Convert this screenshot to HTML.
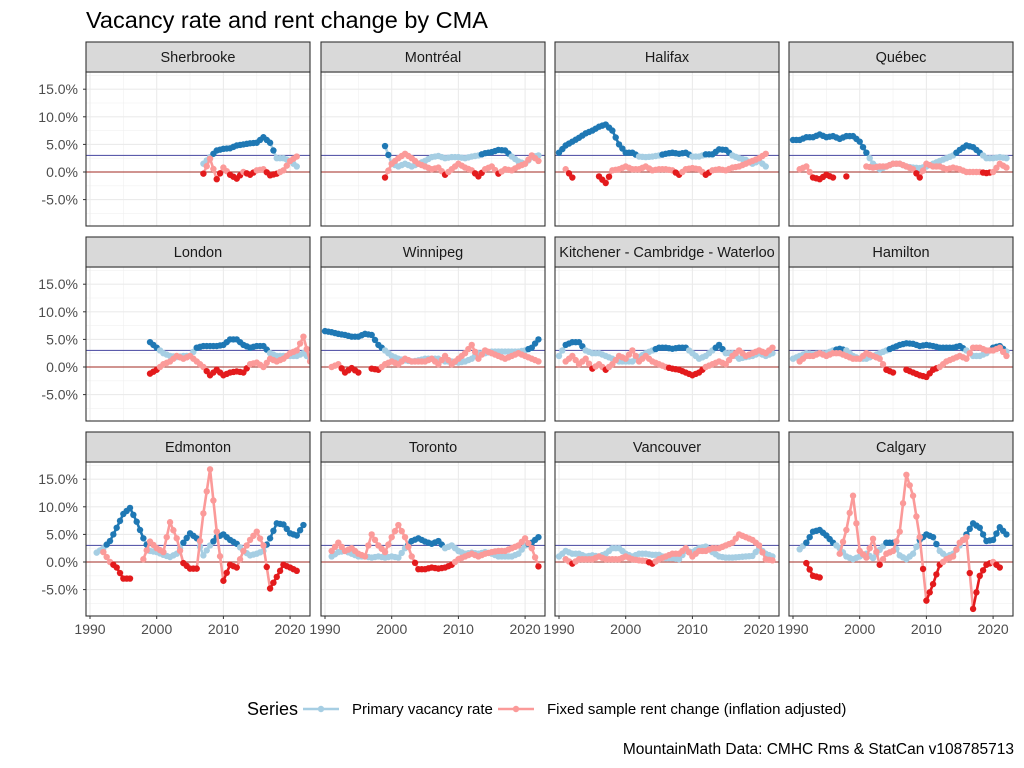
<!DOCTYPE html>
<html><head><meta charset="utf-8"><style>
body{margin:0;background:#fff}
svg{display:block;font-family:"Liberation Sans",sans-serif}
</style></head><body>
<svg id="s" width="1024" height="768" xmlns="http://www.w3.org/2000/svg"></svg>
<script>
const D=[
["Sherbrooke","2007|1.5 2.7 3.9 4.2 4.3 4.8 5.0 5.2 5.3 6.3 5.3 2.5 2.5 2.0 1.0","2007|-0.3 2.4 -1.3 0.8 -0.5 -1.2 0 -0.5 0.3 0.5 -0.6 -0.3 0.3 2.0 2.8"],
["Montréal","1999|4.7 1.5 1.0 1.5 1.0 1.5 2.0 2.7 2.9 2.5 2.7 2.7 2.5 2.8 3.0 3.4 3.6 4.0 3.9 2.8 1.9 1.5 2.7 3.0","1999|-1.0 1.5 2.5 3.3 2.5 1.5 1.0 0.5 0.8 -0.5 0.5 1.5 0.8 0.3 -0.8 0.5 1.0 -0.3 0.5 0.3 1.0 1.5 3.0 2.0"],
["Halifax","1990|3.5 4.8 5.5 6.2 7.0 7.5 8.2 8.6 7.5 5.0 3.5 3.5 2.8 2.7 2.8 3.0 3.3 3.5 3.3 3.5 2.8 2.8 3.2 3.2 4.1 4.0 3.0 2.5 2.2 1.5 2.0 1.0","1991|0.5 -1.0 n n n -0.8 -2.0 0.3 0.5 1.0 0.5 0.5 1.0 0.3 0.5 0.5 0.3 -0.5 0.5 0.7 0.5 -0.5 0.3 0.5 0.3 0.8 1.0 1.5 2.0 2.5 3.3"],
["Québec","1990|5.8 5.8 6.3 6.3 6.8 6.3 6.5 6.0 6.5 6.5 5.5 3.5 1.5 0.5 1.0 1.5 1.5 1.0 0.8 0.7 1.0 1.5 2.0 2.5 3.0 4.0 4.8 4.5 3.5 2.5 2.5 2.7 2.5","1991|0.5 1.0 -1.0 -1.3 -0.5 -1.0 n -0.8 n n 1.0 0.8 1.0 1.0 1.5 1.5 1.0 0.5 -1.0 1.5 1.0 1.0 0.5 0.8 0.5 0 0 0 -0.2 0 1.5 0.8"],
["London","1999|4.5 3.5 2.5 2.0 1.8 2.0 2.0 3.5 3.8 3.8 3.8 4.0 5.0 5.0 4.0 3.5 3.8 3.8 2.5 2.0 2.0 2.0 2.0 2.5 1.5","1999|-1.2 -0.5 0.5 1.0 2.0 1.5 2.0 1.0 0 -1.5 -0.5 -1.5 -1.0 -0.8 -1.0 0.5 0.8 0 1.5 1.0 1.5 2.5 3.0 5.5 1.0"],
["Winnipeg","1990|6.5 6.3 6.0 5.8 5.5 5.5 6.0 5.8 4.0 3.0 2.0 1.5 1.2 1.0 1.2 1.5 1.5 1.5 1.0 1.0 0.8 1.0 1.5 2.5 2.5 2.8 2.8 2.8 2.8 2.8 3.0 3.5 5.0","1991|0 0.5 -1.0 -0.2 -1.0 n -0.3 -0.5 0.5 1.0 0.5 1.5 1.0 1.0 1.0 1.5 0.5 2.0 0.5 1.5 2.5 4.0 1.5 3.0 2.5 2.0 1.5 2.0 2.5 2.0 1.5 1.0"],
["Kitchener - Cambridge - Waterloo","1990|2.0 4.0 4.5 4.5 3.0 2.5 2.5 2.0 1.5 1.0 1.0 1.0 1.8 2.5 3.0 3.5 3.5 3.3 3.5 3.5 2.5 1.5 2.0 3.0 4.0 2.5 2.5 1.5 1.8 2.0 2.5 2.0 2.5","1991|1.0 2.0 0.5 1.5 -0.3 0.5 -0.5 0.5 2.0 1.5 3.0 1.0 2.0 1.0 0.5 0 -0.3 -0.5 -1.0 -1.5 -1.0 0 0.5 1.0 0.5 2.0 3.0 2.0 2.5 3.0 2.5 3.5"],
["Hamilton","1990|1.5 2.0 2.5 2.3 2.5 2.5 3.0 3.3 3.0 2.0 1.5 1.5 2.0 2.5 3.0 3.5 4.0 4.3 4.2 3.8 4.0 3.8 3.5 3.5 3.5 3.8 3.0 2.0 2.0 2.5 3.5 3.8 2.8","1991|1.0 2.0 2.0 2.5 2.0 2.5 2.5 2.0 1.5 1.5 2.5 2.0 1.5 -0.5 -1.0 n -0.5 -1.0 -1.5 -1.8 -0.5 0 1.0 1.5 2.0 1.5 3.5 3.5 3.0 3.0 3.5 2.0"],
["Edmonton","1991|1.7 2.5 3.8 6.2 8.7 9.8 7.3 4.3 2.0 1.8 1.3 0.9 1.5 3.5 5.2 4.3 1.2 3.0 4.5 5.0 4.0 3.3 2.0 1.2 1.5 2.0 4.3 7.0 6.8 5.2 4.8 6.7","1992|1.8 0 -1.0 -3.0 -3.0 n 0.5 3.7 2.5 1.8 7.2 4.3 -0.2 -1.2 -1.2 8.8 16.8 5.5 -3.4 -0.5 -1.0 2.0 4.0 5.5 3.0 -4.8 -2.7 -0.5 -1.0 -1.6"],
["Toronto","1991|1.0 1.8 2.0 1.5 1.0 1.0 0.8 1.0 0.8 1.0 0.8 2.5 3.8 4.3 3.7 3.3 3.8 2.5 3.0 2.0 1.5 1.7 1.5 1.8 1.5 1.0 1.0 1.0 1.5 3.0 3.5 4.5","1991|2.0 3.5 2.0 2.5 1.5 1.0 5.0 3.0 1.8 4.5 6.7 4.5 1.0 -1.3 -1.3 -1.0 -1.2 -1.0 -0.5 0.5 1.0 1.5 1.0 1.5 1.8 2.0 2.0 2.5 3.0 4.3 2.5 -0.8"],
["Vancouver","1990|1.0 2.0 1.5 1.5 1.0 1.2 1.0 1.5 2.5 2.5 1.5 1.0 1.5 1.5 1.3 1.3 0.7 0.7 0.5 2.0 1.8 2.5 2.8 1.8 1.0 0.8 0.8 0.9 1.0 1.1 2.5 1.5 1.0","1991|0.5 -0.3 0.5 0.5 0.5 1.0 0.5 0.5 0.5 1.0 0.5 0.3 0.2 -0.3 0.5 1.0 1.5 1.5 2.5 1.0 2.0 2.0 2.5 2.5 3.0 3.5 5.0 4.5 4.0 3.0 0.5 0.3"],
["Calgary","1991|2.3 3.5 5.5 5.8 4.8 3.5 2.5 1.0 0.5 1.0 1.5 0.7 2.2 3.5 3.5 1.2 0.5 1.5 4.0 5.0 4.5 2.0 1.0 1.5 3.0 5.0 7.0 6.2 3.8 4.0 6.3 5.0","1992|-0.2 -2.5 -2.8 n n 1.5 5.8 12.0 2.0 0.8 4.2 -0.5 1.5 2.0 5.5 15.8 12.0 4.5 -7.0 -4.0 -0.5 0.5 1.0 3.5 4.5 -8.5 -2.5 -0.5 0 -1.0"]
];
let h='';
const L=[86,321,555,789],PW=224,ST=[42,237,432],SH=30,BH=154;
const DB="#1f78b4",LB="#a6cee3",RD="#e31a1c",PK="#fb9a99";
h+='<text x="86" y="28" font-size="23.5" fill="#000">Vacancy rate and rent change by CMA</text>';
function parse(s){const[a,b]=s.split('|');const st=+a;return b.split(' ').map((v,i)=>v=='n'?null:[st+i,+v]);}
D.forEach((d,k)=>{
 const c=k%4,r=Math.floor(k/4),x0=L[c],sy=ST[r],by=sy+SH,y0=by+100;
 const X=yr=>x0+4+6.67*(yr-1990),Y=v=>y0-5.52*v;
 h+=`<clipPath id="c${k}"><rect x="${x0}" y="${sy}" width="${PW}" height="${SH+BH}"/></clipPath>`;
 h+=`<rect x="${x0}" y="${by}" width="${PW}" height="${BH}" fill="#fff"/>`;
 for(let v=-7.5;v<=17.5;v+=5)h+=`<line x1="${x0}" x2="${x0+PW}" y1="${Y(v)}" y2="${Y(v)}" stroke="#f0f0f0" stroke-width="0.6"/>`;
 for(let yr=1995;yr<=2020;yr+=10)h+=`<line y1="${by}" y2="${by+BH}" x1="${X(yr)}" x2="${X(yr)}" stroke="#f0f0f0" stroke-width="0.6"/>`;
 for(let v=-5;v<=15;v+=5)h+=`<line x1="${x0}" x2="${x0+PW}" y1="${Y(v)}" y2="${Y(v)}" stroke="#ebebeb" stroke-width="1.1"/>`;
 for(let yr=1990;yr<=2020;yr+=10)h+=`<line y1="${by}" y2="${by+BH}" x1="${X(yr)}" x2="${X(yr)}" stroke="#ebebeb" stroke-width="1.1"/>`;
 h+=`<line x1="${x0}" x2="${x0+PW}" y1="${Y(3)}" y2="${Y(3)}" stroke="#5b5bab" stroke-width="1.2"/>`;
 h+=`<line x1="${x0}" x2="${x0+PW}" y1="${Y(0)}" y2="${Y(0)}" stroke="#b3534e" stroke-width="1.2"/>`;
 h+=`<g clip-path="url(#c${k})">`;
 [[d[1],v=>v>3,DB,LB],[d[2],v=>v<0,RD,PK]].forEach(([s,cond,dk,lt])=>{
  const p=parse(s);let pts=[];
  for(let i=0;i<p.length;i++){
   if(p[i]&&p[i+1]){const q=p[i],w=p[i+1];
    h+=`<line x1="${X(q[0])}" y1="${Y(q[1])}" x2="${X(w[0])}" y2="${Y(w[1])}" stroke="${cond(q[1])&&cond(w[1])?dk:lt}" stroke-width="2.6" stroke-linecap="round"/>`;
    const m=[(q[0]+w[0])/2,(q[1]+w[1])/2];pts.push(q,m);}
   else if(p[i])pts.push(p[i]);
  }
  pts.forEach(q=>h+=`<circle cx="${X(q[0])}" cy="${Y(q[1])}" r="3.2" fill="${cond(q[1])?dk:lt}"/>`);
 });
 h+='</g>';
 h+=`<rect x="${x0}" y="${by}" width="${PW}" height="${BH}" fill="none" stroke="#333" stroke-width="1.1"/>`;
 h+=`<rect x="${x0}" y="${sy}" width="${PW}" height="${SH}" fill="#d9d9d9" stroke="#333" stroke-width="1.1"/>`;
 h+=`<g clip-path="url(#c${k})"><text x="${x0+PW/2}" y="${sy+20}" font-size="14.5" fill="#1a1a1a" text-anchor="middle">${d[0]}</text></g>`;
 if(c==0)for(let v=-5;v<=15;v+=5){h+=`<line x1="${x0-3}" x2="${x0}" y1="${Y(v)}" y2="${Y(v)}" stroke="#333"/><text x="${x0-8}" y="${Y(v)+5}" font-size="14" fill="#4d4d4d" text-anchor="end">${v.toFixed(1)}%</text>`;}
 if(r==2)for(let yr=1990;yr<=2020;yr+=10){h+=`<line y1="${by+BH}" y2="${by+BH+3}" x1="${X(yr)}" x2="${X(yr)}" stroke="#333"/><text x="${X(yr)}" y="${by+BH+18}" font-size="14" fill="#4d4d4d" text-anchor="middle">${yr}</text>`;}
});
h+='<text x="247" y="715" font-size="18" fill="#000">Series</text>';
h+=`<line x1="303" x2="339" y1="709" y2="709" stroke="${LB}" stroke-width="2.6"/><circle cx="321" cy="709" r="3.2" fill="${LB}"/>`;
h+='<text x="352" y="714" font-size="15" fill="#000">Primary vacancy rate</text>';
h+=`<line x1="498" x2="534" y1="709" y2="709" stroke="${PK}" stroke-width="2.6"/><circle cx="516" cy="709" r="3.2" fill="${PK}"/>`;
h+='<text x="547" y="714" font-size="15" fill="#000">Fixed sample rent change (inflation adjusted)</text>';
h+='<text x="1014" y="754" font-size="15.5" fill="#000" text-anchor="end">MountainMath Data: CMHC Rms &amp; StatCan v108785713</text>';
document.getElementById('s').innerHTML=h;
</script>
</body></html>
